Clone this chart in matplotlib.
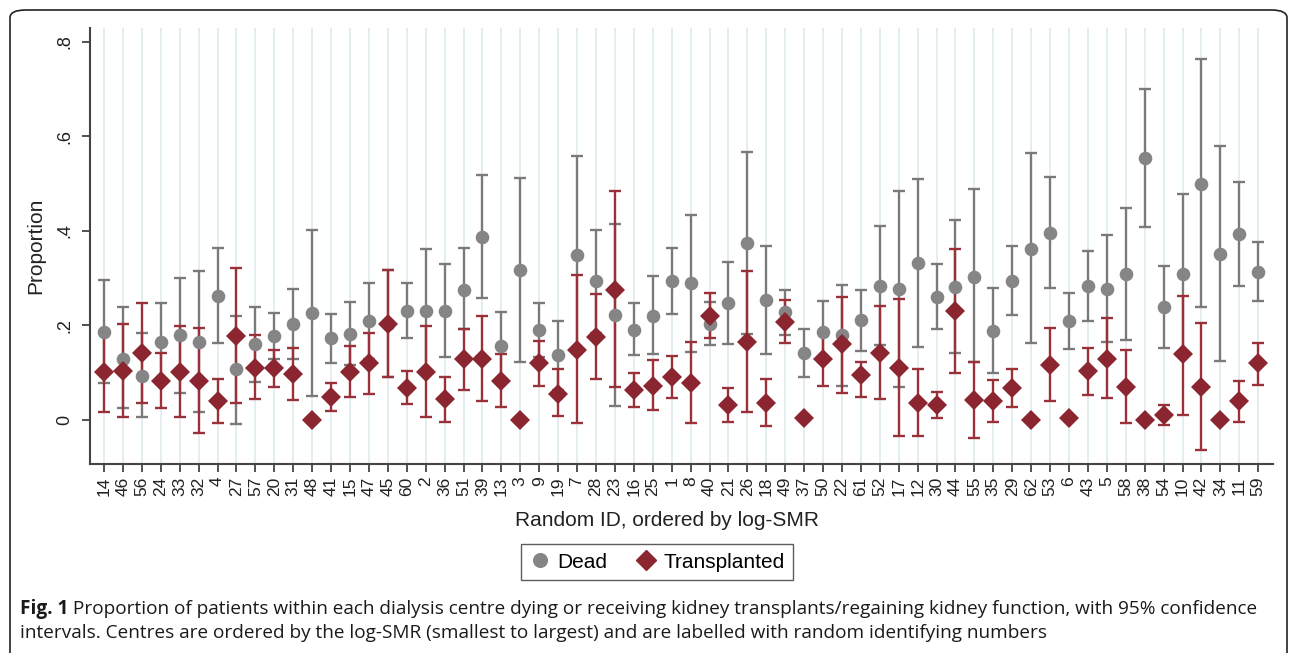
import matplotlib
matplotlib.use("Agg")
import matplotlib.pyplot as plt
from matplotlib.patches import FancyBboxPatch
from matplotlib.lines import Line2D
import numpy as np

ids = [14, 46, 56, 24, 33, 32, 4, 27, 57, 20, 31, 48, 41, 15, 47, 45, 60, 2, 36, 51,
       39, 13, 3, 9, 19, 7, 28, 23, 16, 25, 1, 8, 40, 21, 26, 18, 49, 37, 50, 22,
       61, 52, 17, 12, 30, 44, 55, 35, 29, 62, 53, 6, 43, 5, 58, 38, 54, 10, 42, 34, 11, 59]

dead = [0.187, 0.130, 0.094, 0.166, 0.180, 0.166, 0.263, 0.107, 0.161, 0.178, 0.203, 0.227,
        0.173, 0.182, 0.209, 0.203, 0.231, 0.230, 0.230, 0.276, 0.388, 0.156, 0.317, 0.190, 0.137, 0.349, 0.293, 0.222, 0.190, 0.221,
        0.294, 0.289, 0.203, 0.247, 0.374, 0.254, 0.228, 0.142, 0.187, 0.180, 0.211, 0.284, 0.278, 0.331, 0.261, 0.281,
        0.303, 0.189, 0.295, 0.362, 0.396, 0.209, 0.284, 0.278, 0.309, 0.555, 0.238, 0.309, 0.499, 0.351, 0.393, 0.314]
dead_lo = [0.078, 0.025, 0.006, 0.086, 0.058, 0.018, 0.162, -0.008, 0.081, 0.130, 0.129, 0.051,
           0.121, 0.116, 0.128, 0.092, 0.174, 0.101, 0.133, 0.192, 0.259, 0.083, 0.123, 0.134, 0.063, 0.141, 0.183, 0.030, 0.137, 0.139,
           0.224, 0.144, 0.159, 0.161, 0.182, 0.140, 0.180, 0.092, 0.123, 0.073, 0.146, 0.159, 0.070, 0.155, 0.192, 0.141,
           0.123, 0.100, 0.223, 0.162, 0.280, 0.150, 0.210, 0.166, 0.169, 0.409, 0.152, 0.141, 0.238, 0.125, 0.284, 0.252]
dead_hi = [0.296, 0.240, 0.183, 0.247, 0.300, 0.316, 0.363, 0.221, 0.240, 0.226, 0.278, 0.402,
           0.224, 0.249, 0.289, 0.317, 0.289, 0.362, 0.330, 0.363, 0.518, 0.228, 0.511, 0.247, 0.210, 0.558, 0.402, 0.414, 0.247, 0.305,
           0.363, 0.433, 0.250, 0.335, 0.567, 0.368, 0.275, 0.192, 0.252, 0.286, 0.275, 0.411, 0.484, 0.510, 0.329, 0.423,
           0.488, 0.279, 0.367, 0.564, 0.513, 0.268, 0.357, 0.391, 0.449, 0.700, 0.326, 0.479, 0.763, 0.579, 0.504, 0.377]

trans = [0.102, 0.104, 0.141, 0.082, 0.102, 0.082, 0.041, 0.178, 0.111, 0.111, 0.097, 0.0,
         0.049, 0.101, 0.120, 0.203, 0.068, 0.102, 0.044, 0.128, 0.129, 0.082, 0.0, 0.120, 0.055, 0.149, 0.176, 0.276, 0.063, 0.073,
         0.092, 0.079, 0.221, 0.032, 0.166, 0.035, 0.208, 0.005, 0.128, 0.161, 0.095, 0.142, 0.111, 0.035, 0.032, 0.230,
         0.042, 0.040, 0.067, 0.0, 0.116, 0.005, 0.104, 0.130, 0.070, 0.0, 0.011, 0.139, 0.070, 0.0, 0.040, 0.120]
trans_lo = [0.018, 0.007, 0.037, 0.025, 0.007, -0.028, -0.006, 0.037, 0.044, 0.070, 0.042, 0.0,
            0.020, 0.049, 0.056, 0.092, 0.033, 0.007, -0.005, 0.063, 0.040, 0.028, 0.0, 0.073, 0.008, -0.007, 0.086, 0.070, 0.028, 0.021,
            0.047, -0.007, 0.174, -0.004, 0.018, -0.013, 0.162, 0.005, 0.073, 0.058, 0.049, 0.044, -0.034, -0.034, 0.005, 0.100,
            -0.039, -0.005, 0.027, 0.0, 0.040, 0.005, 0.053, 0.046, -0.007, 0.0, -0.011, 0.011, -0.063, 0.0, -0.005, 0.075]
trans_hi = [0.189, 0.203, 0.248, 0.142, 0.199, 0.194, 0.087, 0.321, 0.180, 0.149, 0.152, 0.0,
            0.079, 0.156, 0.183, 0.317, 0.104, 0.199, 0.092, 0.192, 0.219, 0.139, 0.0, 0.167, 0.107, 0.307, 0.266, 0.484, 0.099, 0.127,
            0.136, 0.164, 0.268, 0.067, 0.316, 0.086, 0.254, 0.005, 0.185, 0.261, 0.123, 0.241, 0.256, 0.108, 0.060, 0.361,
            0.123, 0.085, 0.107, 0.0, 0.194, 0.005, 0.153, 0.216, 0.148, 0.0, 0.032, 0.263, 0.206, 0.0, 0.082, 0.162]

yticks = [0, 0.2, 0.4, 0.6, 0.8]
ytick_labels = ["0", ".2", ".4", ".6", ".8"]
series_names = ["Dead", "Transplanted"]
xlabel = "Random ID, ordered by log-SMR"
ylabel = "Proportion"
caption_bold = "Fig. 1"
caption_line1 = " Proportion of patients within each dialysis centre dying or receiving kidney transplants/regaining kidney function, with 95% confidence"
caption_line2 = "intervals. Centres are ordered by the log-SMR (smallest to largest) and are labelled with random identifying numbers"

GRAY = "#858585"
GRAY_LINE = "#7a7a7a"
RED = "#8b2630"
RED_LINE = "#9a3038"
GRID = "#e3eef2"

plt.rcParams["font.family"] = ["Liberation Sans", "DejaVu Sans"]

W, H = 1290, 653
fig = plt.figure(figsize=(W / 100, H / 100), dpi=100)
fig.patch.set_facecolor("white")

# rounded frame
frame = FancyBboxPatch((10 / W, -0.2), (1287 - 10) / W, (643 / H) + 0.2,
                       boxstyle="round,pad=0,rounding_size=0.012",
                       transform=fig.transFigure, facecolor="none",
                       edgecolor="#222222", linewidth=1.2)
fig.add_artist(frame)

ax = fig.add_axes([90 / W, 1 - 464 / H, (1273 - 90) / W, (464 - 28) / H])
x = np.arange(len(ids))

for xi in x:
    ax.axvline(xi, color=GRID, lw=1.4, zorder=0)

dead_arr = np.array(dead)
trans_arr = np.array(trans)
d_err = [dead_arr - np.array(dead_lo), np.array(dead_hi) - dead_arr]
t_err = [trans_arr - np.array(trans_lo), np.array(trans_hi) - trans_arr]

ax.errorbar(x, dead_arr, yerr=d_err, fmt="none", ecolor=GRAY_LINE, elinewidth=1.7,
            capsize=4.2, capthick=1.7, zorder=2)
ax.errorbar(x, trans_arr, yerr=t_err, fmt="none", ecolor=RED_LINE, elinewidth=1.7,
            capsize=4.2, capthick=1.7, zorder=3)
ax.plot(x, dead_arr, "o", color=GRAY, markersize=9.8, markeredgewidth=0, zorder=4)
ax.plot(x, trans_arr, "D", color=RED, markersize=10.5, markeredgewidth=0, zorder=5)

ax.set_xlim(-0.74, 61.78)
ax.set_ylim(-0.093, 0.829)
ax.set_yticks(yticks)
ax.set_yticklabels(ytick_labels, rotation=90, va="center", fontsize=13)
ax.set_xticks(x)
ax.set_xticklabels([str(i) for i in ids], rotation=90, fontsize=12.5)
ax.tick_params(axis="both", length=6, width=1.2, color="#333333", labelcolor="#222222")
ax.tick_params(axis="x", pad=3)
ax.tick_params(axis="y", pad=6)
for s in ["top", "right"]:
    ax.spines[s].set_visible(False)
for s in ["left", "bottom"]:
    ax.spines[s].set_color("#444444")
    ax.spines[s].set_linewidth(1.5)

ax.set_ylabel(ylabel, fontsize=15, color="#222222", labelpad=8)
fig.text(667 / W, 1 - 521 / H, xlabel, ha="center", va="center", fontsize=15, color="#222222")

handles = [Line2D([], [], marker="o", color=GRAY, linestyle="none", markersize=9.8),
           Line2D([], [], marker="D", color=RED, linestyle="none", markersize=10.5)]
leg = fig.legend(handles, series_names, loc="center", bbox_to_anchor=(657 / W, 1 - 562 / H),
                 ncol=2, fontsize=15, frameon=True, fancybox=False, edgecolor="#333333",
                 handletextpad=0.3, columnspacing=1.4, handlelength=1.0, borderpad=0.4)
leg.get_frame().set_linewidth(1.0)

# caption
cap_fam = ["Liberation Sans Narrow", "Open Sans", "DejaVu Sans"]
fs = 12.5
t_b = fig.text(20 / W, 1 - 609 / H, caption_bold, fontsize=fs, fontweight="bold",
               family=cap_fam, va="center", ha="left", color="#1a1a1a")
fig.canvas.draw()
r = fig.canvas.get_renderer()
bb = t_b.get_window_extent(r)
t1 = fig.text(bb.x1 / W, 1 - 609 / H, caption_line1, fontsize=fs, family=cap_fam,
              va="center", ha="left", color="#1a1a1a")
fig.canvas.draw()
b1 = t1.get_window_extent(r)
total = b1.x1 - bb.x0
scale = (1262 - 20) / total
fs2 = fs * scale
t_b.set_fontsize(fs2)
fig.canvas.draw()
bb = t_b.get_window_extent(r)
t1.set_fontsize(fs2)
t1.set_x(bb.x1 / W)
fig.text(20 / W, 1 - 633 / H, caption_line2, fontsize=fs2, family=cap_fam,
         va="center", ha="left", color="#1a1a1a")

fig.savefig("out.png", dpi=100)
